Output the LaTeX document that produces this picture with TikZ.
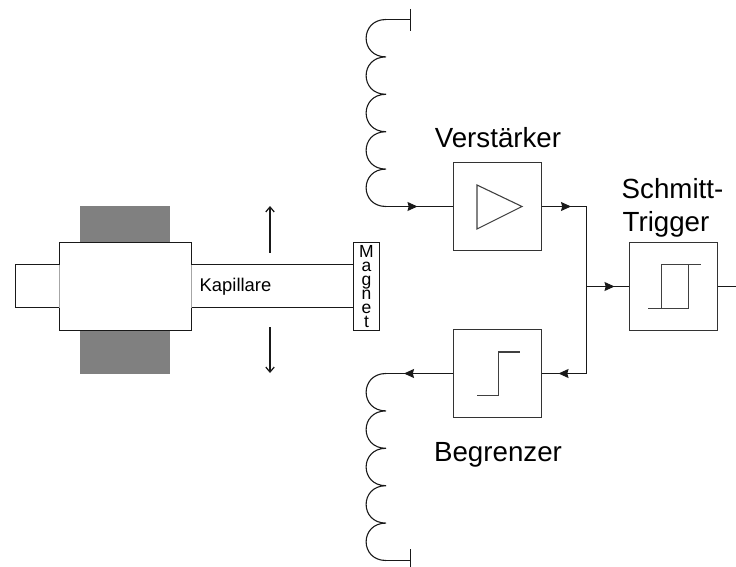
\documentclass[tikz,border=0pt]{standalone}
\usepackage{fontspec}
\setmainfont{Liberation Sans}
\usetikzlibrary{arrows.meta}
\tikzset{
  wire/.style={line width=1.1pt,color=black!90},
  tipped/.style={wire,-{Stealth[inset=1.2pt,length=10pt,width=9pt]}},
  thinarrow/.style={line width=1.25pt,color=black!90,-{Straight Barb[length=5pt,width=8.5pt]}},
  blockbox/.style={draw=black!80,line width=1.1pt,minimum width=88pt,minimum height=88pt,inner sep=0pt},
  biglabel/.style={font=\fontsize{27.7}{30}\selectfont,align=center,inner sep=0pt,text=black},
  sym/.style={line width=1.1pt,color=black!75},
  softedge/.style={line width=1.1pt,color=black!35}
}
\newcommand{\coilpath}[1]{%
  (386,#1) .. controls (359.5,#1) and (359.5,#1+37.4) .. (386,#1+37.4)
  (386,#1+37.4) .. controls (359.5,#1+37.4) and (359.5,#1+74.8) .. (386,#1+74.8)
  (386,#1+74.8) .. controls (359.5,#1+74.8) and (359.5,#1+112.2) .. (386,#1+112.2)
  (386,#1+112.2) .. controls (359.5,#1+112.2) and (359.5,#1+149.6) .. (386,#1+149.6)
  (386,#1+149.6) .. controls (359.5,#1+149.6) and (359.5,#1+187) .. (386,#1+187)}
\begin{document}
\begin{tikzpicture}[x=1pt,y=-1pt]
\useasboundingbox (0,0) rectangle (736,567);
% yoke
\fill[black!50] (80,206) rectangle (170,374);
% tube stub, body, capillary
\draw[wire,fill=white] (59.5,264.5) -- (15.5,264.5) -- (15.5,307.5) -- (59.5,307.5);
\fill[white] (59.5,242.5) rectangle (191.5,330.5);
\draw[wire] (59.5,264.5) -- (59.5,242.5) -- (191.5,242.5) -- (191.5,264.5);
\draw[wire] (59.5,307.5) -- (59.5,330.5) -- (191.5,330.5) -- (191.5,307.5);
\draw[softedge] (59.5,264.5) -- (59.5,307.5);
\draw[softedge] (191.5,264.5) -- (191.5,307.5);
\node[draw=black!90,line width=1.1pt,fill=white,minimum width=26pt,minimum height=88pt,inner sep=0pt] (magnet) at (366.5,286.5) {};
\coordinate (capTop) at (191.5,264.5);
\coordinate (capBot) at (191.5,307.5);
\draw[wire] (capTop) -- (capTop -| magnet.west);
\draw[wire] (capBot) -- (capBot -| magnet.west);
\node[font=\fontsize{18.4}{20}\selectfont,inner sep=0pt,anchor=base west,text=black] (kap) at (199.5,291) {Kapillare};
\node[font=\fontsize{17.5}{14}\selectfont,align=center,inner sep=0pt,anchor=center,text=black] (magtext) at (366.5,286.5) {M\\a\\g\\n\\e\\t};
% motion arrows
\coordinate (upA) at (270,252.5);
\coordinate (upB) at (270,206);
\coordinate (dnA) at (270,327);
\coordinate (dnB) at (270,373);
\draw[thinarrow] (upA) -- (upB);
\draw[thinarrow] (dnA) -- (dnB);
% blocks
\node[blockbox] (amp) at (497.5,206.5) {};
\node[blockbox] (lim) at (497.5,373.5) {};
\node[blockbox] (st) at (673.5,286.5) {};
\node[biglabel,anchor=base] (ampl) at (498,148) {Verstärker};
\node[biglabel,anchor=base] (liml) at (498,461) {Begrenzer};
\node[biglabel,anchor=base] (stl1) at (672.5,198) {Schmitt-};
\node[biglabel,anchor=base] (stl2) at (666,231) {Trigger};
% symbols
\draw[sym,line join=miter] (477,185) -- (477,229) -- (522,206.5) -- cycle;
\draw[sym] (477,395.5) -- (498.5,395.5) -- (498.5,352) -- (520,352);
\draw[sym] (648,308.5) -- (688.5,308.5) -- (688.5,264);
\draw[sym] (661.5,308.5) -- (661.5,264.5) -- (701,264.5);
% coils
\draw[wire] \coilpath{19.5};
\draw[wire] \coilpath{373.5};
% coil ends
\coordinate (topEnd) at (386,19.5);
\coordinate (topT) at (410.5,19.5);
\coordinate (topTa) at (410.5,9);
\coordinate (topTb) at (410.5,31);
\draw[wire] (topEnd) -- (topT);
\draw[wire] (topTa) -- (topTb);
\coordinate (botEnd) at (386,560.5);
\coordinate (botT) at (410.5,560.5);
\coordinate (botTa) at (410.5,549);
\coordinate (botTb) at (410.5,567);
\draw[wire] (botEnd) -- (botT);
\draw[wire] (botTa) -- (botTb);
% signal lines
\coordinate (coilIn) at (386,206.5);
\coordinate (inTip) at (417.5,206.5);
\draw[wire] (coilIn) -- (amp.west);
\draw[tipped] (coilIn) -- (inTip);
\coordinate (bus1) at (586.5,206.5);
\coordinate (bus2) at (586.5,373.5);
\coordinate (bus3) at (586.5,286.5);
\coordinate (outTip) at (571,206.5);
\draw[wire,line join=miter] (amp.east) -- (bus1) -- (bus2) -- (lim.east);
\draw[tipped] (amp.east) -- (outTip);
\coordinate (limTip) at (558.5,373.5);
\draw[tipped] (bus2) -- (limTip);
\coordinate (stTip) at (614.5,286.5);
\draw[wire] (bus3) -- (st.west);
\draw[tipped] (bus3) -- (stTip);
\coordinate (coilOut) at (386,373.5);
\coordinate (outLeftTip) at (404,373.5);
\draw[wire] (lim.west) -- (coilOut);
\draw[tipped] (lim.west) -- (outLeftTip);
\coordinate (stOut) at (736,286.5);
\draw[wire] (st.east) -- (stOut);
\end{tikzpicture}
\end{document}
